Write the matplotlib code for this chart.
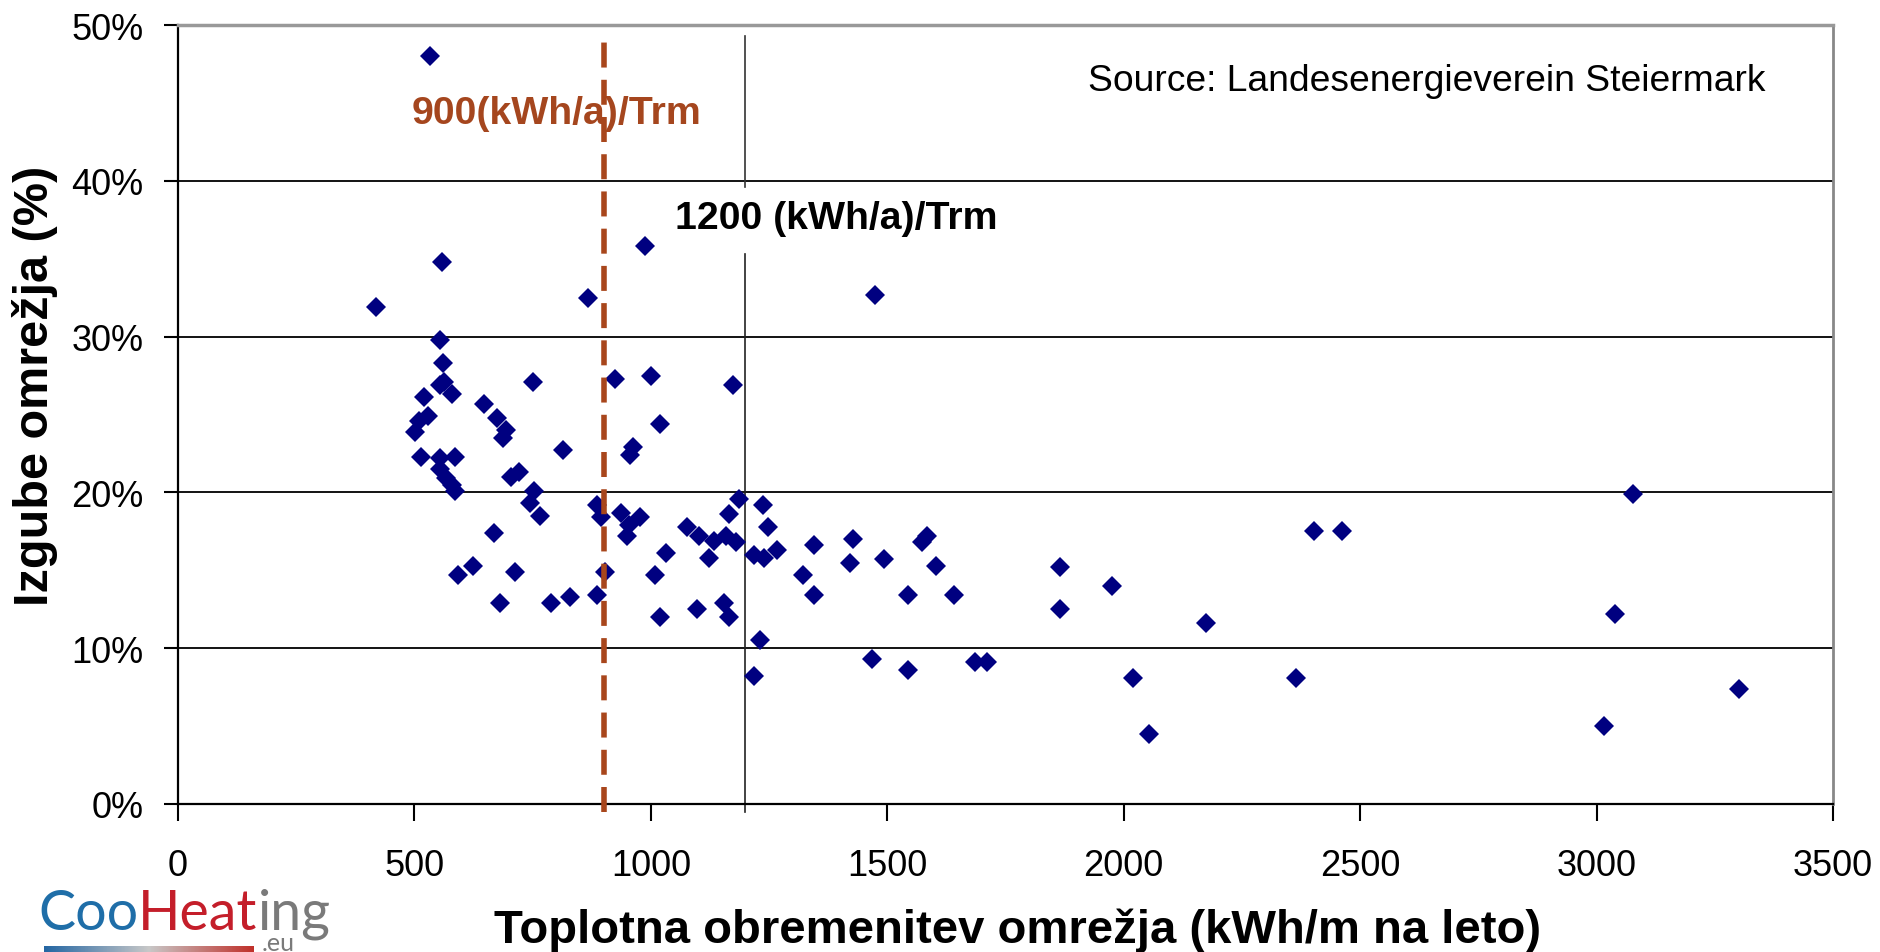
import numpy as np
import matplotlib
matplotlib.use('Agg')
import matplotlib.pyplot as plt
from matplotlib.colors import LinearSegmentedColormap

plt.rcParams['font.family'] = ['Liberation Sans', 'DejaVu Sans']

# heat load of the network (kWh/m per year)
load = [533, 419, 559, 553, 560, 563, 554, 579, 521, 751, 648, 674, 528, 510,
        502, 693, 687, 815, 514, 553, 586, 555, 567, 579, 586, 705, 722, 752,
        744, 765, 669, 624, 592, 713, 681, 789, 828, 866, 988, 925, 1000, 1173,
        1020, 962, 955, 887, 895, 937, 976, 950, 953, 1033, 1008, 904, 886,
        1020, 1077, 1101, 1122, 1133, 1158, 1180, 1165, 1187, 1098, 1154, 1166,
        1237, 1247, 1218, 1239, 1266, 1230, 1218, 1322, 1346, 1346, 1428, 1422,
        1493, 1473, 1583, 1574, 1602, 1544, 1640, 1468, 1544, 1685, 1711, 1866,
        1866, 1975, 2020, 2053, 2173, 2364, 2402, 2461, 3015, 3040, 3078, 3302]
# network losses (%)
losses = [48.0, 31.9, 34.8, 29.8, 28.3, 27.1, 26.9, 26.3, 26.1, 27.1, 25.7, 24.8,
          24.9, 24.6, 23.9, 24.0, 23.5, 22.7, 22.3, 22.2, 22.3, 21.5, 20.9, 20.5,
          20.1, 21.0, 21.3, 20.1, 19.3, 18.5, 17.4, 15.3, 14.7, 14.9, 12.9, 12.9,
          13.3, 32.5, 35.8, 27.3, 27.5, 26.9, 24.4, 22.9, 22.4, 19.2, 18.4, 18.7,
          18.4, 17.2, 17.9, 16.1, 14.7, 14.9, 13.4, 12.0, 17.8, 17.2, 15.8, 16.9,
          17.2, 16.8, 18.6, 19.6, 12.5, 12.9, 12.0, 19.2, 17.8, 16.0, 15.8, 16.3,
          10.5, 8.2, 14.7, 16.6, 13.4, 17.0, 15.5, 15.7, 32.7, 17.2, 16.8, 15.3,
          13.4, 13.4, 9.3, 8.6, 9.1, 9.1, 15.2, 12.5, 14.0, 8.1, 4.5, 11.6, 8.1,
          17.5, 17.5, 5.0, 12.2, 19.9, 7.4]

x_ticks = [0, 500, 1000, 1500, 2000, 2500, 3000, 3500]
y_ticks = [0, 10, 20, 30, 40, 50]
limit_low = 900
limit_high = 1200

fig = plt.figure(figsize=(18.8, 9.53), dpi=100)
ax = fig.add_axes([0.0947, 0.1553, 0.8803, 0.8174])

# horizontal grid
for yv in y_ticks[1:-1]:
    ax.axhline(yv, color='black', lw=1.3, zorder=1)

# 1200 limit line, broken where its label sits
ax.plot([limit_high, limit_high], [-0.5, 35.3], color='#222222', lw=1.2, clip_on=False, zorder=2)
ax.plot([limit_high, limit_high], [39.6, 49.3], color='#333333', lw=1.2, zorder=2)

# points
ax.plot(load, losses, linestyle='none', marker='D', ms=10, color='#000080',
        markeredgewidth=0, zorder=3)

# 900 limit line
ax.plot([limit_low, limit_low], [-0.5, 49.2], color='#A8461C', lw=4,
        dashes=(4.5, 2.2), clip_on=False, zorder=4)

ax.text(493, 43.7, '900(kWh/a)/Trm', color='#A5461E', fontsize=28.3,
        fontweight='bold', va='baseline', ha='left')
ax.text(1052, 37.0, '1200 (kWh/a)/Trm', color='black', fontsize=28.3,
        fontweight='bold', va='baseline', ha='left')
ax.text(1924, 45.8, 'Source: Landesenergieverein Steiermark', fontsize=26.8,
        va='baseline', ha='left')

ax.set_xlim(0, 3500)
ax.set_ylim(0, 50)
ax.set_xticks(x_ticks)
ax.set_yticks(y_ticks)
ax.set_yticklabels(['%d%%' % v for v in y_ticks])
ax.tick_params(axis='x', labelsize=26, length=12, width=1.5, pad=20, direction='out')
ax.tick_params(axis='y', labelsize=26, length=10, width=1.5, pad=15, direction='out')

for side in ['left', 'bottom']:
    ax.spines[side].set_color('black')
    ax.spines[side].set_linewidth(1.6)
ax.spines['top'].set_color('#999999')
ax.spines['top'].set_linewidth(2.5)
ax.spines['right'].set_color('#888888')
ax.spines['right'].set_linewidth(2)

fig.text(0.5415, 0.011, 'Toplotna obremenitev omrežja (kWh/m na leto)',
         fontsize=34, fontweight='bold', ha='center', va='baseline')
fig.text(0.0185, 0.595, 'Izgube omrežja (%)', fontsize=35, fontweight='bold',
         rotation=90, ha='center', va='center')

# CooHeating logo
fig.canvas.draw()
renderer = fig.canvas.get_renderer()
xpos = 38
for piece, col in [('Coo', '#1F6EA8'), ('Heat', '#C41E2A'), ('ing', '#7A7A7A')]:
    t = fig.text(xpos / 1880, 1 - 930 / 953, piece, color=col, fontsize=40,
                 family=['Lato', 'DejaVu Sans'], fontweight='normal',
                 ha='left', va='baseline')
    bb = t.get_window_extent(renderer)
    xpos = bb.x1
fig.text(262 / 1880, 1 - 951 / 953, '.eu', color='#7A7A7A', fontsize=18,
         family=['Lato', 'DejaVu Sans'], fontweight='normal', ha='left', va='baseline')

bar = fig.add_axes([44 / 1880, 0, 210 / 1880, 6 / 953])
cmap = LinearSegmentedColormap.from_list('logo', ['#2466A3', '#C8C8C8', '#C0302A'])
bar.imshow(np.linspace(0, 1, 200)[None, :], aspect='auto', cmap=cmap)
bar.axis('off')

fig.savefig('out.png', dpi=100)
